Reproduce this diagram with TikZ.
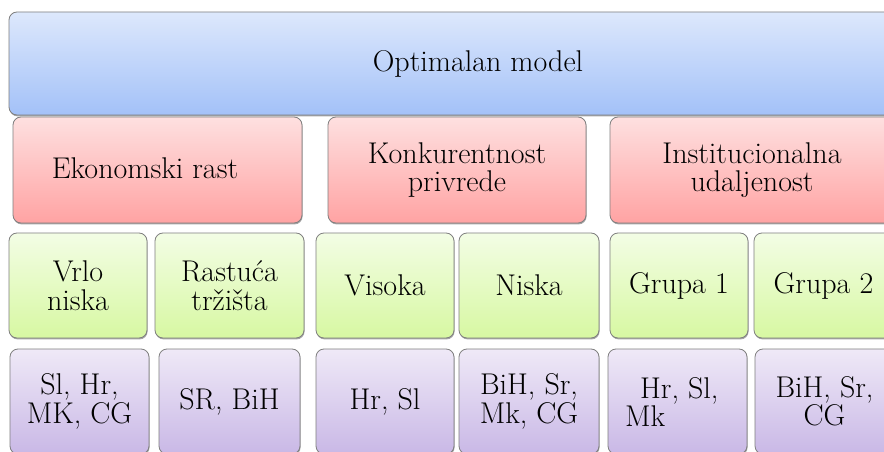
\documentclass[tikz,border=0pt]{standalone}
\usepackage{fontspec}
\usetikzlibrary{shadows}
\definecolor{bluetop}{HTML}{DDE8FC}
\definecolor{bluebot}{HTML}{A3C1F8}
\definecolor{redtop}{HTML}{FEE0E0}
\definecolor{redbot}{HTML}{FFA3A3}
\definecolor{greentop}{HTML}{F3FDE5}
\definecolor{greenbot}{HTML}{D7F8A2}
\definecolor{purptop}{HTML}{EFE9F7}
\definecolor{purpbot}{HTML}{C9B8E6}
\definecolor{edge}{HTML}{7F7F7F}
\tikzset{
  box/.style={draw=edge, line width=0.8pt, rounded corners=8pt, inner sep=0pt,
    align=center, font=\fontsize{30}{28.5}\selectfont,
    drop shadow={shadow xshift=0.6pt, shadow yshift=-1.4pt, opacity=0.35, fill=black}},
  bluebox/.style={box, top color=bluetop, bottom color=bluebot},
  redbox/.style={box, top color=redtop, bottom color=redbot, minimum height=106pt},
  greenbox/.style={box, top color=greentop, bottom color=greenbot, minimum height=105pt},
  purpbox/.style={box, top color=purptop, bottom color=purpbot, minimum height=105pt},
  txt/.style={inner sep=0pt, align=left, font=\fontsize{30}{28.5}\selectfont}
}
\begin{document}
\begin{tikzpicture}[x=1pt, y=-1pt]
\useasboundingbox (0,0) rectangle (884,452);
\clip (0,0) rectangle (884,452);
\fill[white] (0,0) rectangle (884,452);
% top
\node[bluebox, minimum width=938pt, minimum height=103pt] (top) at (478,63.5) {Optimalan model};
% red row
\node[redbox, minimum width=289pt] (r1) at (157.5,170) {};
\node[txt] (t1) at (145,168) {Ekonomski rast};
\node[redbox, minimum width=258pt] (r2) at (457,170) {Konkurentnost\\privrede};
\node[redbox, minimum width=284pt] (r3) at (752,170) {Institucionalna\\udaljenost};
% green row
\node[greenbox, minimum width=138pt] (g1) at (78,285.5) {Vrlo\\niska};
\node[greenbox, minimum width=149pt] (g2) at (229.5,285.5) {Rastuća\\tržišta};
\node[greenbox, minimum width=138pt] (g3) at (385,285.5) {Visoka};
\node[greenbox, minimum width=140pt] (g4) at (529,285.5) {Niska};
\node[greenbox, minimum width=138pt] (g5) at (679,285.5) {Grupa 1};
\node[greenbox, minimum width=139pt] (g6) at (823.5,285.5) {Grupa 2};
% purple row
\node[purpbox, minimum width=139pt] (p1) at (79.5,401.5) {Sl, Hr,\\MK, CG};
\node[purpbox, minimum width=141pt] (p2) at (229.5,401.5) {SR, BiH};
\node[purpbox, minimum width=138pt] (p3) at (385,401.5) {Hr, Sl};
\node[purpbox, minimum width=140pt] (p4) at (529,401.5) {BiH, Sr,\\Mk, CG};
\node[purpbox, minimum width=139pt] (p5) at (677.5,401.5) {};
\node[txt, anchor=west] (t5) at (625,402) {\hspace*{15pt}Hr, Sl,\\Mk};
\node[purpbox, minimum width=139pt] (p6) at (824.5,401.5) {BiH, Sr,\\CG};
\end{tikzpicture}
\end{document}
